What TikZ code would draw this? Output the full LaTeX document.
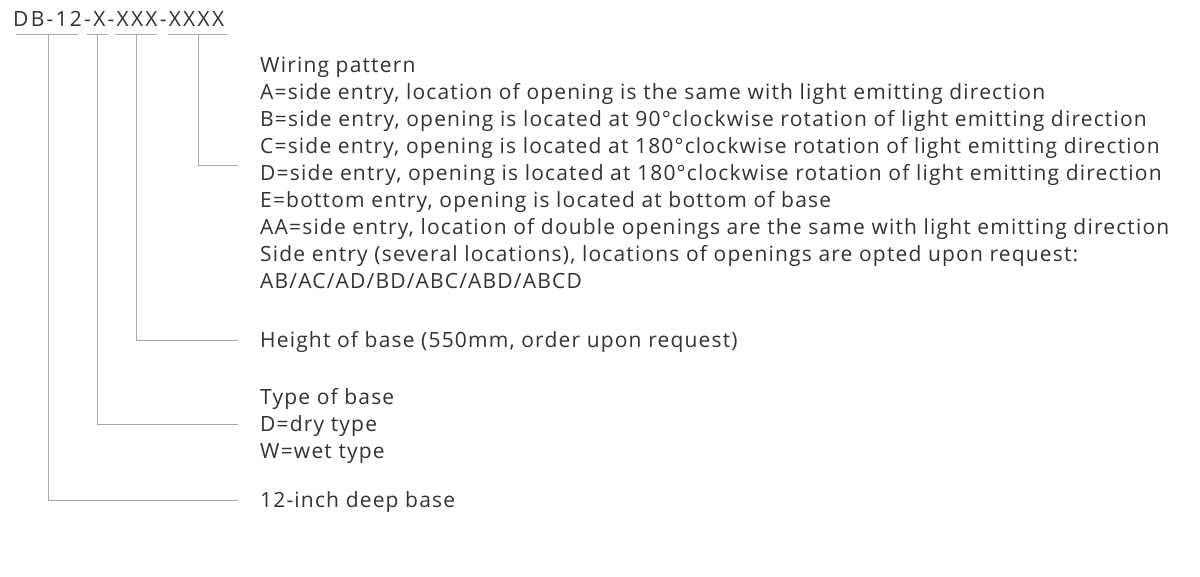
\documentclass[tikz,border=0pt]{standalone}
\usepackage{fontspec}
\setmainfont{Open Sans}[LetterSpace=5.6]
\newfontfamily\codefont{Open Sans}[LetterSpace=10.8]
\usetikzlibrary{positioning}

\definecolor{txtgray}{HTML}{333333}
\definecolor{linegray}{HTML}{A8A8A8}

\tikzset{
	txt/.style={inner sep=0pt, text=txtgray, align=left, font=\fontsize{21}{27}\selectfont},
	lead/.style={draw=linegray, line width=1pt},
}

\begin{document}
\begin{tikzpicture}[x=1pt,y=-1pt]
	\useasboundingbox[fill=white] (0,0) rectangle (1200,577);

	% model code
	\node[txt, anchor=base west, font=\codefont\fontsize{21}{27}\selectfont] (code) at (13,27) {DB-12-X-XXX-XXXX};

	% underlines below the parts of the code
	\coordinate (depth) at (48,35);
	\coordinate (type) at (97,35);
	\coordinate (height) at (136,35);
	\coordinate (wiring) at (198,35);
	\draw[lead] (16,35) -- (78,35);
	\draw[lead] (87,35) -- (108,35);
	\draw[lead] (115,35) -- (157,35);
	\draw[lead] (168,35) -- (227,35);

	% explanations
	\node[txt, anchor=north west] (wiringtxt) at (260,57) {Wiring pattern\\
		A=side entry, location of opening is the same with light emitting direction\\
		B=side entry, opening is located at 90°clockwise rotation of light emitting direction\\
		C=side entry, opening is located at 180°clockwise rotation of light emitting direction\\
		D=side entry, opening is located at 180°clockwise rotation of light emitting direction\\
		E=bottom entry, opening is located at bottom of base\\
		AA=side entry, location of double openings are the same with light emitting direction\\
		Side entry (several locations), locations of openings are opted upon request:\\
		AB/AC/AD/BD/ABC/ABD/ABCD};
	\node[txt, anchor=base west] (heighttxt) at (260,348) {Height of base (550mm, order upon request)};
	\node[txt, anchor=north west] (typetxt) at (260,388) {Type of base\\D=dry type\\W=wet type};
	\node[txt, anchor=base west] (depthtxt) at (260,507) {12-inch deep base};

	% leader ends
	\coordinate (wiringend) at (238,166);
	\coordinate (heightend) at (238,341);
	\coordinate (typeend) at (238,424);
	\coordinate (depthend) at (238,500);

	% leaders
	\draw[lead] (wiring) |- (wiringend);
	\draw[lead] (height) |- (heightend);
	\draw[lead] (type) |- (typeend);
	\draw[lead] (depth) |- (depthend);
\end{tikzpicture}
\end{document}
